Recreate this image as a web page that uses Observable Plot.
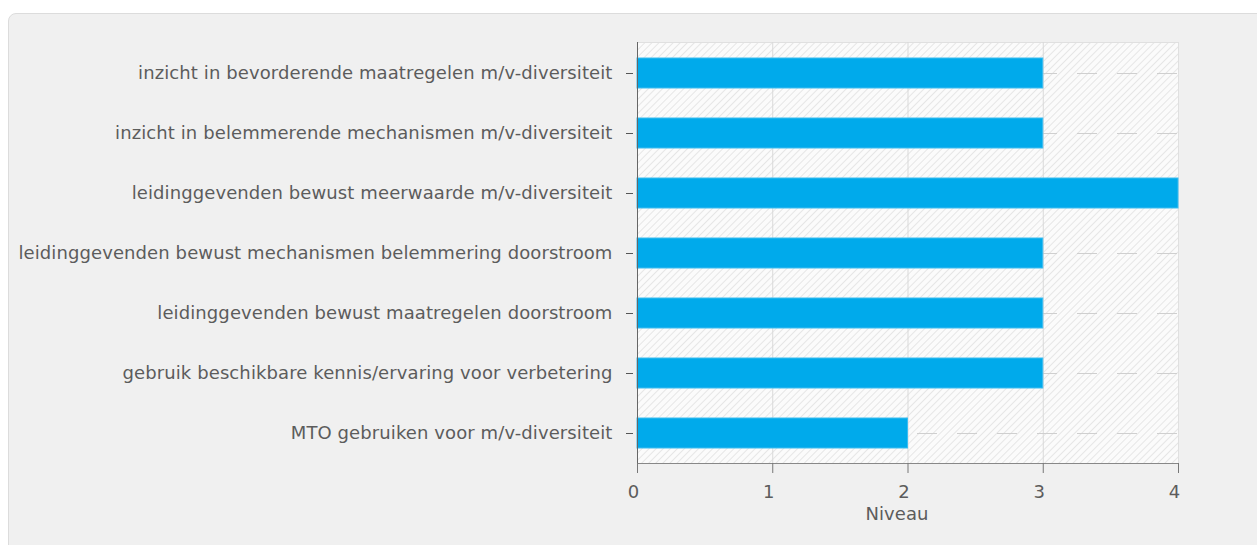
<!DOCTYPE html>
<html>
<head>
<meta charset="utf-8">
<script src="https://cdn.jsdelivr.net/npm/d3@7"></script>
<script src="https://cdn.jsdelivr.net/npm/@observablehq/plot@0.6"></script>
<style>
  html, body { margin: 0; padding: 0; background: #ffffff; width: 1257px; height: 545px; overflow: hidden; }
  #panel { position: absolute; left: 8px; top: 13px; width: 1270px; height: 560px; background: #f0f0f0; border: 1px solid #dcdcdc; border-radius: 8px; box-sizing: border-box; }
  #chart { position: absolute; left: 0; top: 0; }
  #chart svg text { letter-spacing: 0.1px; }
</style>
</head>
<body>
<div id="panel"></div>
<div id="chart"></div>
<script>
const categories = [
  "inzicht in bevorderende maatregelen m/v-diversiteit",
  "inzicht in belemmerende mechanismen m/v-diversiteit",
  "leidinggevenden bewust meerwaarde m/v-diversiteit",
  "leidinggevenden bewust mechanismen belemmering doorstroom",
  "leidinggevenden bewust maatregelen doorstroom",
  "gebruik beschikbare kennis/ervaring voor verbetering",
  "MTO gebruiken voor m/v-diversiteit"
];
const values = [3, 3, 4, 3, 3, 3, 2];
const xTicks = [0, 1, 2, 3, 4];
const xLabel = "Niveau";

const data = categories.map((c, i) => ({category: c, value: values[i]}));

const chart = Plot.plot({
  width: 1257,
  height: 545,
  marginLeft: 637,
  marginRight: 79,
  marginTop: 42,
  marginBottom: 82,
  style: {background: "transparent", fontFamily: "DejaVu Sans", fontSize: "18px", color: "#5c5c5c"},
  x: {domain: [0, 4]},
  y: {domain: categories, padding: 0},
  marks: [
    Plot.frame({fill: "url(#hatch)", stroke: "#e0e0e0"}),
    Plot.gridX({ticks: [1, 2, 3], stroke: "#d9d9d9", strokeOpacity: 1}),
    Plot.gridY({stroke: "#cfcfcf", strokeOpacity: 1, strokeDasharray: "20,20"}),
    Plot.barX(data, {x: "value", y: "category", fill: "#00aaeb", stroke: "#3cbdf0", strokeWidth: 1, insetTop: 15, insetBottom: 15}),
    Plot.ruleX([0], {stroke: "#666"}),
    Plot.frame({anchor: "bottom", stroke: "#888"}),
    Plot.axisY({tickSize: 7, dx: -4, tickPadding: 14, stroke: "#555", fill: "#5c5c5c", label: null}),
    Plot.axisX({ticks: xTicks, tickSize: 10, tickFormat: () => "", stroke: "#777", label: null}),
    Plot.axisX({ticks: xTicks, tickSize: 0, tickPadding: 22, dx: -4, tickFormat: d3.format("d"), fill: "#5c5c5c", label: null}),
    Plot.text([xLabel], {frameAnchor: "bottom", dx: -11, dy: 56, fill: "#5c5c5c", fontSize: 18})
  ]
});

const svg = d3.select(chart);
const defs = svg.insert("defs", ":first-child");
const pat = defs.append("pattern")
  .attr("id", "hatch")
  .attr("patternUnits", "userSpaceOnUse")
  .attr("width", 5).attr("height", 5)
  .attr("patternTransform", "rotate(45)");
pat.append("rect").attr("width", 5).attr("height", 5).attr("fill", "#fbfbfb");
pat.append("line").attr("x1", 0).attr("y1", 0).attr("x2", 0).attr("y2", 5)
  .attr("stroke", "#e6e6e6").attr("stroke-width", 2);

document.getElementById("chart").appendChild(chart);
</script>
</body>
</html>
